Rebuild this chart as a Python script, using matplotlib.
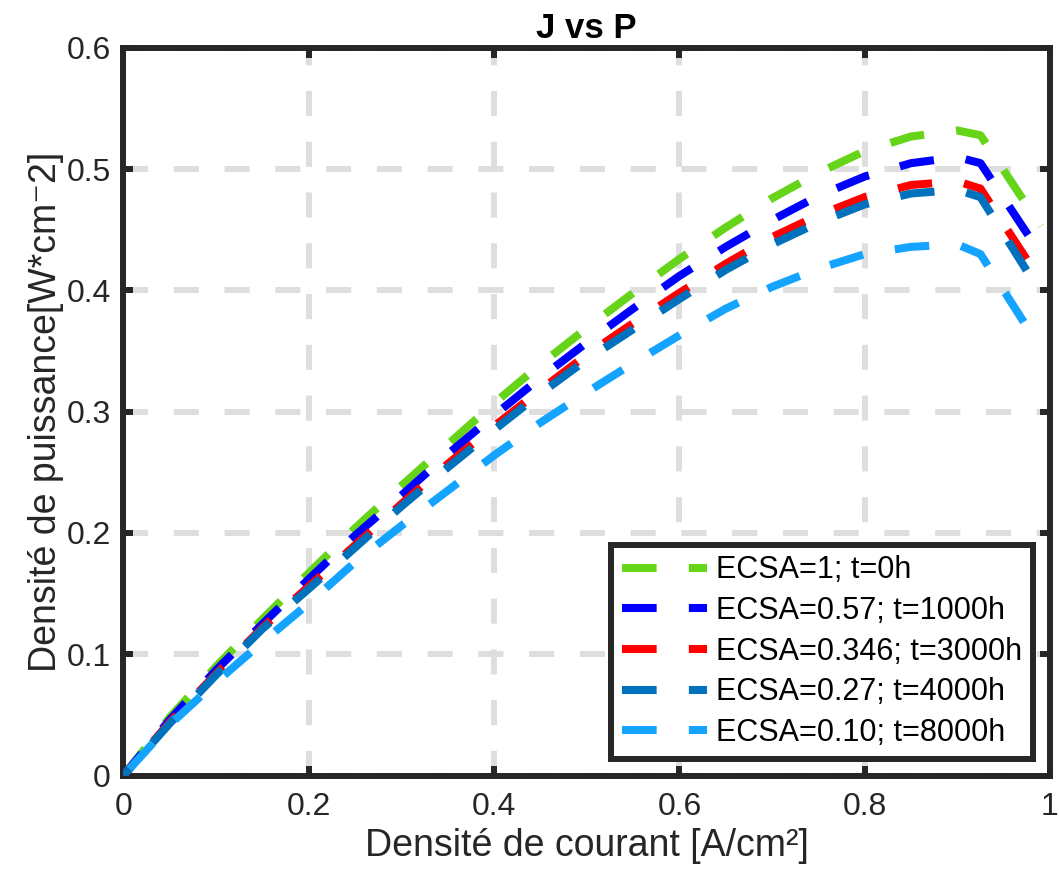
"""
Power density vs current density for several ECSA values.
"""
import matplotlib
matplotlib.use('Agg')
from matplotlib import pyplot as plt
from matplotlib.lines import Line2D

# current density [A/cm2], shared by all series
j = [0, 0.05, 0.1, 0.15, 0.2, 0.25, 0.3, 0.35, 0.4, 0.45, 0.5, 0.55,
     0.6, 0.65, 0.7, 0.75, 0.8, 0.85, 0.9, 0.925, 0.99]

# power density [W/cm2]
p_ecsa_1 = [0, 0.048, 0.090, 0.129, 0.167, 0.204, 0.239, 0.273, 0.307, 0.339,
            0.369, 0.398, 0.426, 0.452, 0.476, 0.497, 0.515, 0.527, 0.532,
            0.528, 0.453]
p_ecsa_057 = [0, 0.046, 0.087, 0.125, 0.162, 0.198, 0.231, 0.265, 0.297, 0.328,
              0.357, 0.385, 0.412, 0.436, 0.458, 0.478, 0.494, 0.505, 0.510,
              0.505, 0.430]
p_ecsa_0346 = [0, 0.044, 0.084, 0.122, 0.156, 0.190, 0.224, 0.257, 0.288, 0.318,
               0.347, 0.373, 0.398, 0.422, 0.444, 0.462, 0.477, 0.487, 0.490,
               0.484, 0.408]
p_ecsa_027 = [0, 0.043, 0.083, 0.121, 0.154, 0.188, 0.222, 0.254, 0.285, 0.315,
              0.343, 0.368, 0.393, 0.417, 0.438, 0.456, 0.471, 0.480, 0.483,
              0.477, 0.398]
p_ecsa_010 = [0, 0.042, 0.077, 0.110, 0.142, 0.176, 0.206, 0.235, 0.264, 0.291,
              0.316, 0.340, 0.363, 0.385, 0.403, 0.418, 0.430, 0.436, 0.438,
              0.430, 0.352]

labels = ['ECSA=1; t=0h', 'ECSA=0.57; t=1000h', 'ECSA=0.346; t=3000h',
          'ECSA=0.27; t=4000h', 'ECSA=0.10; t=8000h']
colors = ['#66d418', '#0000ff', '#ff0000', '#0072bd', '#14a4ff']
dash_offsets = [0, 0.75, 2.6, 2.9, 7.2]  # dash phase, so the dashes don't line up

x_ticks = [0, 0.2, 0.4, 0.6, 0.8, 1]
x_ticklabels = ['0', '0.2', '0.4', '0.6', '0.8', '1']
y_ticks = [0, 0.1, 0.2, 0.3, 0.4, 0.5, 0.6]
y_ticklabels = ['0', '0.1', '0.2', '0.3', '0.4', '0.5', '0.6']

plt.rcParams['font.family'] = ['Liberation Sans', 'DejaVu Sans']
dark = '#262626'
dash = (4.3, 4.0)

fig = plt.figure(figsize=(10.59, 8.74), dpi=100)
ax = fig.add_axes([0.1166, 0.1127, 0.8749, 0.8324])

series = [p_ecsa_1, p_ecsa_057, p_ecsa_0346, p_ecsa_027, p_ecsa_010]
for p, c, off in zip(series, colors, dash_offsets):
    ax.plot(j, p, color=c, lw=5.8, linestyle=(off, dash),
            dash_capstyle='butt', zorder=3)

ax.set_xlim(0, 1)
ax.set_ylim(0, 0.6)
ax.set_xticks(x_ticks)
ax.set_xticklabels(x_ticklabels)
ax.set_yticks(y_ticks)
ax.set_yticklabels(y_ticklabels)

ax.grid(True, color='#dedede', lw=4.3, linestyle=(0, (4.2, 4.3)), zorder=0)
ax.set_axisbelow(True)

for s in ax.spines.values():
    s.set_linewidth(4.3)
    s.set_color(dark)
ax.tick_params(axis='both', direction='in', length=7, width=4.3, color=dark,
               labelsize=23, labelcolor=dark, top=True, right=True)
ax.tick_params(axis='x', pad=12)
ax.tick_params(axis='y', pad=9)

ax.set_xlabel('Densité de courant [A/cm²]', fontsize=27, color=dark, labelpad=4)
ax.set_ylabel('Densité de puissance[W*cm⁻2]', fontsize=27, color=dark, labelpad=2)
ax.set_title('J vs P', fontsize=25, fontweight='bold', pad=7)

# legend samples all start with a full dash, as in the original
handles = [Line2D([], [], color=c, lw=5.8, linestyle=(0, dash),
                  dash_capstyle='butt') for c in colors]
leg = ax.legend(handles, labels, loc='lower right', fontsize=22,
                handlelength=2.8, handletextpad=0.3, borderpad=0.35,
                labelspacing=0.35, borderaxespad=0.55, fancybox=False,
                framealpha=1)
leg.get_frame().set_edgecolor(dark)
leg.get_frame().set_linewidth(4.3)

fig.savefig('out.png', dpi=100)
